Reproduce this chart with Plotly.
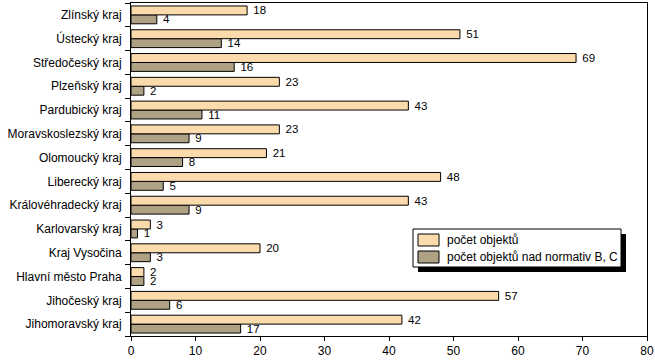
import plotly.graph_objects as go

categories = ["Jihomoravský kraj", "Jihočeský kraj", "Hlavní město Praha", "Kraj Vysočina",
              "Karlovarský kraj", "Královéhradecký kraj", "Liberecký kraj", "Olomoucký kraj",
              "Moravskoslezský kraj", "Pardubický kraj", "Plzeňský kraj", "Středočeský kraj",
              "Ústecký kraj", "Zlínský kraj"]
pocet = [42, 57, 2, 20, 3, 43, 48, 21, 23, 43, 23, 69, 51, 18]
nad = [17, 6, 2, 3, 1, 9, 5, 8, 9, 11, 2, 16, 14, 4]
x_ticks = [0, 10, 20, 30, 40, 50, 60, 70, 80]
series_names = ["počet objektů", "počet objektů nad normativ B, C"]
series_colors = ["#FBDBAC", "#AFA184"]

W, H = 655, 362
ml, mr, mt, mb = 131, 8, 3, 26
pw = W - ml - mr
ph = H - mt - mb


def px(x):
    return (x - ml) / pw


def py(y):
    return (H - mb - y) / ph


fig = go.Figure()
for vals, i in ((nad, 1), (pocet, 0)):
    fig.add_trace(go.Bar(y=categories, x=vals, orientation="h", name=series_names[i],
                         marker=dict(color=series_colors[i], line=dict(color="black", width=1)),
                         text=vals, texttemplate=" %{text}", textposition="outside",
                         cliponaxis=False, constraintext="none",
                         textfont=dict(size=11.5, color="#000000"),
                         outsidetextfont=dict(size=11.5, color="#000000"),
                         hoverinfo="skip"))

# manual legend with shadow
lx0, ly0, lx1, ly1 = 413, 229, 621, 267
sh = 5
fig.add_shape(type="rect", xref="paper", yref="paper",
              x0=px(lx0 + sh), x1=px(lx1 + sh), y0=py(ly1 + sh), y1=py(ly0 + sh),
              fillcolor="black", line=dict(width=0), layer="above")
fig.add_shape(type="rect", xref="paper", yref="paper",
              x0=px(lx0), x1=px(lx1), y0=py(ly1), y1=py(ly0),
              fillcolor="white", line=dict(color="black", width=1), layer="above")
sw = [(234, 246), (251, 263)]
for i, (a, b) in enumerate(sw):
    fig.add_shape(type="rect", xref="paper", yref="paper",
                  x0=px(418), x1=px(439), y0=py(b), y1=py(a),
                  fillcolor=series_colors[i], line=dict(color="black", width=1), layer="above")
    fig.add_annotation(xref="paper", yref="paper", x=px(445), y=py((a + b) / 2),
                       text=series_names[i], showarrow=False, xanchor="left", yanchor="middle",
                       font=dict(size=12, color="black"))

fig.update_layout(
    width=W, height=H,
    margin=dict(l=ml, r=mr, t=mt, b=mb, pad=0, autoexpand=False),
    paper_bgcolor="white", plot_bgcolor="white",
    font=dict(family="Liberation Sans, Arial, sans-serif", size=12, color="black"),
    barmode="group", bargap=0.25, bargroupgap=0,
    showlegend=False,
    xaxis=dict(range=[0, 80], tickvals=x_ticks, showgrid=False, zeroline=False,
               showline=True, linecolor="black", linewidth=1, mirror=True,
               ticks="outside", ticklen=4, tickcolor="black", automargin=False),
    yaxis=dict(categoryorder="array", categoryarray=categories, showgrid=False,
               showline=True, linecolor="black", linewidth=1, mirror=True,
               ticks="outside", tickson="boundaries", ticklen=5, tickcolor="black",
               ticklabelstandoff=6, automargin=False),
)
fig.write_html("out.html", config={"displayModeBar": False},
               post_script="document.body.style.margin='0';")
